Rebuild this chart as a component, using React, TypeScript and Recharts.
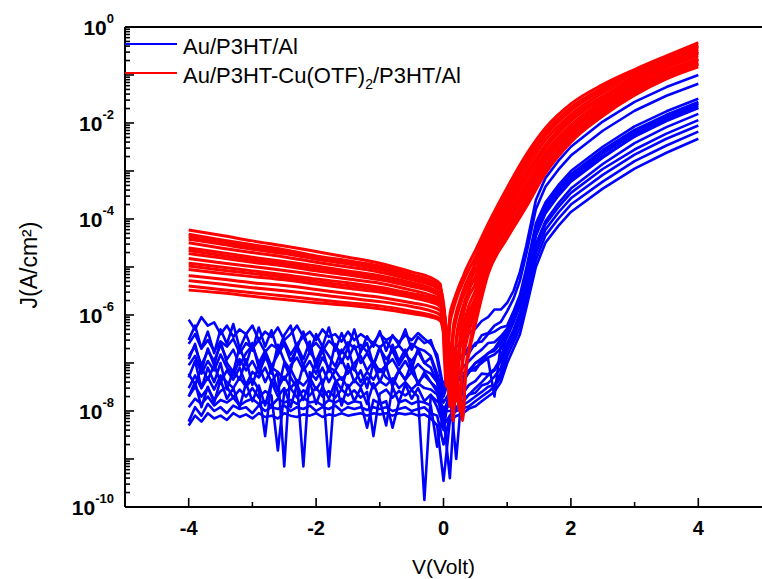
import React from 'react';
import { LineChart, Line, XAxis, YAxis, ReferenceLine, Legend } from 'recharts';

const FONT = '"Liberation Sans", Arial, Helvetica, sans-serif';

// ---------- red curves: Au/P3HT-Cu(OTF)2/P3HT/Al ----------
const redV = [-4, -3.5, -3, -2.5, -2, -1.5, -1, -0.5, -0.2, -0.05, 0.05, 0.1, 0.15, 0.2, 0.25, 0.3, 0.35, 0.4, 0.5, 0.7, 1, 1.3, 1.6, 2, 2.5, 3, 3.5, 4];

const red0 = [5.9e-5, 4.6e-5, 3.5e-5, 2.75e-5, 2.1e-5, 1.6e-5, 1.2e-5, 7.9e-6, 6.0e-6, 4.4e-6, 6.3e-8, 1.0e-6, 1.8e-6, 2.8e-6, 4.2e-6, 6.0e-6, 8.7e-6, 1.2e-5, 2.2e-5, 7.9e-5, 4.5e-4, 2.2e-3, 7.9e-3, 2.5e-2, 6.3e-2, 0.13, 0.25, 0.47];
const red1 = [4.8e-5, 3.7e-5, 2.9e-5, 2.3e-5, 1.7e-5, 1.35e-5, 1.05e-5, 6.9e-6, 5.2e-6, 3.9e-6, 3.2e-8, 6.3e-7, 1.26e-6, 2.1e-6, 3.2e-6, 4.6e-6, 6.5e-6, 8.9e-6, 1.6e-5, 6.3e-5, 3.5e-4, 1.8e-3, 6.5e-3, 2.1e-2, 5.5e-2, 0.12, 0.23, 0.42];
const red2 = [3.8e-5, 3.0e-5, 2.35e-5, 1.9e-5, 1.45e-5, 1.15e-5, 8.9e-6, 6.0e-6, 4.6e-6, 3.5e-6, 3.2e-7, 1.26e-8, 5.0e-7, 1.12e-6, 1.9e-6, 3.0e-6, 4.5e-6, 6.3e-6, 1.17e-5, 5.1e-5, 2.9e-4, 1.4e-3, 5.4e-3, 1.8e-2, 4.8e-2, 0.105, 0.2, 0.38];
const red3 = [3.2e-5, 2.5e-5, 2.0e-5, 1.62e-5, 1.26e-5, 1.0e-5, 7.8e-6, 5.4e-6, 4.2e-6, 3.2e-6, 2.5e-7, 4.0e-8, 3.5e-7, 8.3e-7, 1.45e-6, 2.3e-6, 3.4e-6, 4.8e-6, 8.5e-6, 4.1e-5, 2.3e-4, 1.12e-3, 4.4e-3, 1.5e-2, 4.2e-2, 9.3e-2, 0.19, 0.34];
const red4 = [2.5e-5, 2.0e-5, 1.6e-5, 1.3e-5, 1.05e-5, 8.3e-6, 6.6e-6, 4.7e-6, 3.6e-6, 2.8e-6, 5.0e-7, 2.0e-7, 6.3e-9, 3.2e-7, 7.9e-7, 1.4e-6, 2.3e-6, 3.4e-6, 6.2e-6, 3.3e-5, 1.86e-4, 8.9e-4, 3.5e-3, 1.3e-2, 3.6e-2, 8.3e-2, 0.17, 0.31];
const red5 = [1.9e-5, 1.55e-5, 1.26e-5, 1.05e-5, 8.3e-6, 6.8e-6, 5.4e-6, 3.9e-6, 3.1e-6, 2.4e-6, 4.0e-7, 1.4e-7, 2.5e-8, 2.5e-7, 6.0e-7, 1.07e-6, 1.7e-6, 2.5e-6, 4.4e-6, 2.6e-5, 1.5e-4, 7.1e-4, 2.95e-3, 1.1e-2, 3.2e-2, 7.4e-2, 0.15, 0.28];
const red6 = [1.5e-5, 1.23e-5, 1.02e-5, 8.5e-6, 6.9e-6, 5.6e-6, 4.6e-6, 3.3e-6, 2.6e-6, 2.1e-6, 4.0e-7, 2.0e-7, 1.0e-7, 1.6e-8, 2.0e-7, 5.0e-7, 9.5e-7, 1.6e-6, 3.2e-6, 2.1e-5, 1.2e-4, 5.6e-4, 2.4e-3, 9.1e-3, 2.8e-2, 6.8e-2, 0.14, 0.25];
const red7 = [1.2e-5, 1.0e-5, 8.3e-6, 6.9e-6, 5.6e-6, 4.7e-6, 3.8e-6, 2.8e-6, 2.3e-6, 1.8e-6, 3.2e-7, 1.6e-7, 7.9e-8, 3.2e-8, 1.6e-7, 3.8e-7, 7.1e-7, 1.12e-6, 2.3e-6, 1.7e-5, 9.5e-5, 4.5e-4, 2.0e-3, 7.8e-3, 2.45e-2, 6.0e-2, 0.123, 0.22];
const red8 = [8.9e-6, 7.4e-6, 6.3e-6, 5.4e-6, 4.4e-6, 3.6e-6, 3.0e-6, 2.3e-6, 1.86e-6, 1.5e-6, 3.2e-7, 1.8e-7, 1.0e-7, 5.0e-8, 1.26e-8, 1.26e-7, 3.2e-7, 6.3e-7, 1.66e-6, 1.4e-5, 7.8e-5, 3.5e-4, 1.6e-3, 6.6e-3, 2.1e-2, 5.4e-2, 0.112, 0.2];
const red9 = [6.6e-6, 5.6e-6, 4.7e-6, 4.1e-6, 3.4e-6, 2.8e-6, 2.35e-6, 1.8e-6, 1.5e-6, 1.23e-6, 2.8e-7, 1.4e-7, 7.9e-8, 4.0e-8, 2.0e-8, 1.0e-7, 2.4e-7, 4.5e-7, 1.2e-6, 1.1e-5, 6.2e-5, 2.8e-4, 1.3e-3, 5.6e-3, 1.86e-2, 4.8e-2, 0.102, 0.18];
const red10 = [4.0e-6, 3.4e-6, 2.9e-6, 2.5e-6, 2.1e-6, 1.8e-6, 1.55e-6, 1.2e-6, 1.0e-6, 8.3e-7, 2.5e-7, 1.26e-7, 7.9e-8, 5.0e-8, 2.5e-8, 6.3e-9, 7.9e-8, 2.0e-7, 8.7e-7, 8.9e-6, 5.0e-5, 2.2e-4, 1.1e-3, 4.7e-3, 1.6e-2, 4.3e-2, 9.1e-2, 0.166];
const red11 = [3.3e-6, 2.9e-6, 2.45e-6, 2.1e-6, 1.8e-6, 1.6e-6, 1.35e-6, 1.07e-6, 9.1e-7, 7.6e-7, 2.0e-7, 1.12e-7, 6.3e-8, 4.0e-8, 2.0e-8, 7.9e-9, 6.3e-8, 1.6e-7, 6.3e-7, 7.1e-6, 4.0e-5, 1.8e-4, 8.9e-4, 4.0e-3, 1.4e-2, 3.8e-2, 8.3e-2, 0.148];
const red12 = [4.3e-5, 3.3e-5, 2.6e-5, 2.1e-5, 1.6e-5, 1.25e-5, 9.7e-6, 6.4e-6, 4.9e-6, 3.7e-6, 4.5e-7, 2.2e-7, 1.1e-7, 2.0e-8, 2.5e-7, 8e-7, 1.8e-6, 3.2e-6, 1.4e-5, 5.7e-5, 3.2e-4, 1.6e-3, 5.9e-3, 1.95e-2, 5.1e-2, 0.112, 0.215, 0.4];
const red13 = [2.2e-5, 1.75e-5, 1.42e-5, 1.17e-5, 9.3e-6, 7.5e-6, 6e-6, 4.3e-6, 3.3e-6, 2.6e-6, 3e-7, 1.5e-8, 4e-7, 9e-7, 1.6e-6, 2.4e-6, 3.3e-6, 4.5e-6, 5.2e-6, 2.9e-5, 1.68e-4, 8e-4, 3.2e-3, 1.2e-2, 3.4e-2, 7.8e-2, 0.16, 0.295];
const red14 = [1.05e-5, 8.7e-6, 7.3e-6, 6.1e-6, 5e-6, 4.1e-6, 3.4e-6, 2.55e-6, 2.05e-6, 1.65e-6, 3.5e-7, 2e-7, 1.1e-7, 5.5e-8, 1.0e-8, 1.5e-7, 4e-7, 8e-7, 2e-6, 1.55e-5, 8.6e-5, 4e-4, 1.8e-3, 7.2e-3, 2.3e-2, 5.7e-2, 0.118, 0.21];
const red15 = [5.2e-6, 4.4e-6, 3.7e-6, 3.2e-6, 2.7e-6, 2.25e-6, 1.9e-6, 1.5e-6, 1.22e-6, 1.0e-6, 3e-7, 1.2e-7, 1.0e-8, 8e-8, 2e-7, 3.5e-7, 6e-7, 1.0e-6, 1.6e-6, 1.0e-5, 5.6e-5, 2.5e-4, 1.2e-3, 5.1e-3, 1.73e-2, 4.5e-2, 9.6e-2, 0.173];

// ---------- blue curves: Au/P3HT/Al ----------
const blueV = [
  -4, -3.9, -3.8, -3.7, -3.6, -3.5, -3.4, -3.3, -3.2, -3.1,
  -3, -2.9, -2.8, -2.7, -2.6, -2.5, -2.4, -2.3, -2.2, -2.1,
  -2, -1.9, -1.8, -1.7, -1.6, -1.5, -1.4, -1.3, -1.2, -1.1,
  -1, -0.9, -0.8, -0.7, -0.6, -0.5, -0.4, -0.3, -0.2, -0.1,
  0, 0.1, 0.2, 0.3, 0.4, 0.5, 0.6, 0.7, 0.8, 0.9,
  1, 1.1, 1.2, 1.3, 1.45, 1.6, 1.8, 2, 2.5, 3, 3.5, 4,
];

const blue0 = [
  8e-7, 5e-7, 9e-7, 6e-7, 7e-7, 4e-7, 6e-7, 3.5e-7, 5e-7, 4e-7,
  6e-7, 3e-7, 4.5e-7, 3.5e-7, 5.5e-7, 3e-7, 4e-7, 6e-7, 3.5e-7, 4.5e-7,
  3e-7, 5e-7, 3.5e-7, 4e-7, 2.8e-7, 4.5e-7, 3e-7, 4e-7, 3.2e-7, 2.6e-7,
  4e-7, 3e-7, 3.6e-7, 2.7e-7, 3.8e-7, 3e-7, 4.2e-7, 3.2e-7, 2.5e-7, 1.5e-7,
  3e-8, 1.26e-7, 2.2e-7, 2.6e-7, 4.2e-7, 5.2e-7, 7.5e-7, 9e-7, 1.3e-6, 1.3e-6,
  1.8e-6, 3.2e-6, 7.9e-6, 2.8e-5, 2.5e-4, 7.1e-4, 1.6e-3, 3.2e-3, 1.07e-2, 2.75e-2, 5.6e-2, 0.1,
];
const blue1 = [
  2.5e-7, 4e-7, 2e-7, 3e-7, 1.8e-7, 2.8e-7, 2.2e-7, 3.2e-7, 1.6e-7, 2.6e-7,
  2e-7, 3e-7, 1.7e-7, 2.4e-7, 2e-7, 2.8e-7, 1.5e-7, 2.5e-7, 3.5e-7, 2e-7,
  2.6e-7, 1.8e-7, 2.9e-7, 2.2e-7, 1.6e-7, 2.7e-7, 2e-7, 2.4e-7, 1.7e-7, 2.6e-7,
  2.1e-7, 2.8e-7, 1.9e-7, 2.3e-7, 1.6e-7, 2.5e-7, 2e-7, 1.8e-7, 1.4e-7, 6e-8,
  2e-8, 5e-8, 1.1e-7, 1.3e-7, 2.2e-7, 2.3e-7, 3.8e-7, 4.2e-7, 6e-7, 7.2e-7,
  1.2e-6, 2.2e-6, 5.2e-6, 1.86e-5, 1.6e-4, 4.7e-4, 1.05e-3, 2.1e-3, 6.9e-3, 1.8e-2, 3.7e-2, 6.6e-2,
];
const blue2 = [
  1.4e-7, 2.2e-7, 9e-8, 1.8e-7, 1.1e-7, 2.4e-7, 1.2e-7, 1.9e-7, 9e-8, 1.6e-7,
  2.3e-7, 1e-7, 1.8e-7, 8.5e-8, 1.5e-7, 2.5e-7, 1.1e-7, 2e-7, 9e-8, 1.7e-7,
  1.1e-7, 2.2e-7, 1.4e-7, 8.5e-8, 1.9e-7, 1.2e-7, 2.3e-7, 1e-7, 1.6e-7, 9e-8,
  2e-7, 1.2e-7, 1.8e-7, 9e-8, 1.5e-7, 1.1e-7, 1.7e-7, 1e-7, 8e-8, 4e-8,
  8e-9, 4e-10, 5e-8, 8e-8, 1.1e-7, 1.5e-7, 1.9e-7, 2.6e-7, 2.7e-7, 3.6e-7,
  5.2e-7, 1e-6, 2.2e-6, 7.9e-6, 6.5e-5, 1.9e-4, 4.3e-4, 8.5e-4, 2.75e-3, 7.2e-3, 1.48e-2, 2.75e-2,
];
const blue3 = [
  9e-8, 1.4e-7, 6e-8, 1.1e-7, 7e-8, 1.5e-7, 8e-8, 5.5e-8, 1.2e-7, 7e-8,
  1.1e-7, 6e-8, 1.3e-7, 8e-8, 6.5e-8, 7e-10, 9e-8, 1.3e-7, 7e-8, 1.1e-7,
  6e-8, 1.3e-7, 8e-8, 7e-8, 1.2e-7, 6e-8, 1e-7, 1.4e-7, 7e-8, 1.1e-7,
  6.5e-8, 9e-8, 1.2e-7, 7e-8, 1.1e-7, 6.5e-8, 9.5e-8, 7e-8, 6e-8, 4e-8,
  1.5e-8, 2.5e-8, 1e-9, 4e-8, 6.3e-8, 1e-7, 1.26e-7, 1.6e-7, 2e-7, 3.2e-7,
  4.9e-7, 9.1e-7, 2e-6, 7.2e-6, 5.9e-5, 1.74e-4, 3.9e-4, 7.8e-4, 2.5e-3, 6.5e-3, 1.35e-2, 2.5e-2,
];
const blue4 = [
  6e-8, 3.5e-8, 8e-8, 4.5e-8, 9e-8, 4e-8, 7e-8, 4.5e-8, 8e-8, 3.5e-8,
  6.5e-8, 5e-8, 8e-8, 4e-8, 6.5e-8, 4.5e-8, 7.5e-8, 4e-8, 7e-10, 6.5e-8,
  4.5e-8, 8e-8, 4e-8, 7e-8, 4.5e-8, 6.5e-8, 8e-8, 4e-8, 6.5e-8, 4.5e-8,
  7.5e-8, 5e-8, 4e-8, 7e-8, 4.5e-8, 6.5e-8, 4e-8, 5.5e-8, 4e-8, 2.5e-8,
  5e-9, 3.2e-8, 4.5e-8, 4.5e-8, 7e-8, 7e-8, 1.1e-7, 1.2e-7, 2e-8, 2.5e-7,
  4.5e-7, 8.3e-7, 1.9e-6, 6.8e-6, 5.4e-5, 1.6e-4, 3.5e-4, 7.1e-4, 2.3e-3, 5.9e-3, 1.23e-2, 2.3e-2,
];
const blue5 = [
  3e-8, 5.5e-8, 3e-8, 5e-8, 2.8e-8, 5.5e-8, 4e-8, 3e-8, 5e-8, 3.2e-8,
  4.6e-8, 2.8e-8, 3e-9, 4.2e-8, 3e-8, 5.2e-8, 3e-8, 4.4e-8, 3.4e-8, 5e-8,
  2.8e-8, 4.5e-8, 7e-10, 4e-8, 5e-8, 3e-8, 4.4e-8, 3.2e-8, 5e-8, 3e-8,
  4.2e-8, 3.4e-8, 4.8e-8, 3e-8, 4e-8, 2.8e-8, 3.8e-8, 3e-8, 2.8e-8, 2.2e-8,
  1e-8, 2e-8, 2.8e-8, 2.3e-8, 3.5e-8, 4.2e-8, 6e-8, 5.8e-8, 7.5e-8, 1.26e-7,
  4e-7, 7.6e-7, 1.66e-6, 5.9e-6, 4.7e-5, 1.4e-4, 3.2e-4, 6.3e-4, 2e-3, 5.2e-3, 1.1e-2, 2.05e-2,
];
const blue6 = [
  2e-8, 3.2e-8, 2e-8, 3e-8, 1.7e-8, 2.6e-8, 3.2e-8, 1.9e-8, 2.8e-8, 2e-8,
  3e-8, 1.9e-8, 2.6e-8, 2.1e-8, 1.5e-9, 2.5e-8, 3e-8, 1.9e-8, 2.7e-8, 2.1e-8,
  3.1e-8, 2e-8, 2.6e-8, 1.9e-8, 2.8e-8, 2.1e-8, 2.7e-8, 1.9e-8, 2.5e-8, 3e-9,
  2.3e-8, 2.8e-8, 1.9e-8, 2.6e-8, 2.1e-8, 2.7e-8, 2e-8, 1.4e-10, 2.1e-8, 1.6e-8,
  1.2e-8, 1.26e-8, 1.8e-8, 1.5e-8, 2.2e-8, 2.4e-8, 3.4e-8, 3.8e-8, 5.2e-8, 7.9e-8,
  2.3e-7, 4.5e-7, 9.5e-7, 3.4e-6, 2.6e-5, 7.8e-5, 1.74e-4, 3.5e-4, 1.1e-3, 2.8e-3, 6e-3, 1.15e-2,
];
const blue7 = [
  1.2e-8, 1.8e-8, 1.4e-8, 2e-8, 1.3e-8, 1.7e-8, 1.5e-8, 1.9e-8, 1.3e-8, 1.6e-8,
  1.8e-8, 1.4e-8, 1.6e-8, 1.3e-8, 1.8e-8, 1.5e-8, 1.7e-8, 1.4e-8, 1.9e-8, 1.5e-8,
  1.6e-8, 1.3e-8, 1.7e-8, 1.5e-8, 1.8e-8, 1.4e-8, 1.6e-8, 1.5e-8, 4.5e-9, 1.7e-8,
  1.4e-8, 1.6e-8, 4.5e-9, 1.5e-8, 1.7e-8, 1.4e-8, 1.6e-8, 1.5e-8, 1.3e-8, 1.8e-9,
  1e-8, 1e-8, 1.12e-8, 1.3e-8, 1.6e-8, 2e-8, 2.5e-8, 3.2e-8, 3.5e-8, 6.3e-8,
  1.8e-7, 3.5e-7, 7.4e-7, 2.6e-6, 1.95e-5, 6e-5, 1.35e-4, 2.7e-4, 8.3e-4, 2.2e-3, 4.7e-3, 8.9e-3,
];
const blue8 = [
  6e-9, 1.2e-8, 8e-9, 1.4e-8, 1e-8, 1.2e-8, 9e-9, 1.3e-8, 1.1e-8, 1.2e-8,
  9e-9, 1.3e-8, 1e-8, 1.2e-8, 1.1e-8, 1.3e-8, 1e-8, 1.2e-8, 1.1e-8, 1.3e-8,
  1e-8, 1.2e-8, 1.1e-8, 1.3e-8, 1e-8, 1.2e-8, 1.1e-8, 1.2e-8, 1.05e-8, 1.2e-8,
  1.1e-8, 1.2e-8, 1e-8, 1.1e-8, 1.2e-8, 1e-8, 1.1e-8, 1.2e-8, 9e-9, 8e-9,
  2e-9, 7.9e-9, 1e-8, 1.12e-8, 1.26e-8, 1.6e-8, 2e-8, 2.5e-8, 3.2e-8, 5e-8,
  1.38e-7, 2.7e-7, 5.5e-7, 1.95e-6, 1.4e-5, 4.5e-5, 1e-4, 2e-4, 6e-4, 1.6e-3, 3.4e-3, 6.6e-3,
];
const blue9 = [
  5e-9, 8e-9, 6e-9, 9e-9, 7e-9, 8e-9, 6.5e-9, 9e-9, 7.5e-9, 8.5e-9,
  7e-9, 9e-9, 7.5e-9, 8e-9, 7e-9, 9e-9, 8e-9, 7.5e-9, 8.5e-9, 8e-9,
  9e-9, 7.5e-9, 8.5e-9, 8e-9, 9e-9, 8e-9, 8.5e-9, 9e-9, 8e-9, 9e-9,
  8.5e-9, 9e-9, 8e-9, 9e-9, 8.5e-9, 9e-9, 8e-9, 8.5e-9, 7e-9, 5e-9,
  3.5e-10, 6.3e-9, 7.9e-9, 8.9e-9, 1.12e-8, 1.26e-8, 1.6e-8, 2e-8, 2.5e-8, 4e-8,
  1e-7, 2e-7, 4e-7, 1.4e-6, 1e-5, 3.2e-5, 7.1e-5, 1.4e-4, 4.3e-4, 1.12e-3, 2.4e-3, 4.7e-3,
];
const blue10 = [
  3e-7, 6e-7, 2e-7, 4.5e-7, 1.6e-7, 5e-7, 2.5e-7, 6.5e-7, 2e-7, 4e-7,
  1.8e-7, 5.5e-7, 2.2e-7, 4.8e-7, 1.7e-7, 3.8e-7, 6e-7, 2e-7, 4.5e-7, 1.6e-7,
  4e-7, 2.2e-7, 5.5e-7, 1.8e-7, 4.2e-7, 2e-7, 5e-7, 1.7e-7, 3.6e-7, 2.2e-7,
  4.6e-7, 1.8e-7, 3.8e-7, 2.4e-7, 5e-7, 1.9e-7, 3.5e-7, 2.6e-7, 3e-7, 1.2e-7,
  2.5e-8, 6e-8, 1e-7, 1.5e-7, 1.6e-7, 2.6e-7, 2.8e-7, 4e-7, 4.5e-7, 5.5e-7,
  6e-7, 1.2e-6, 2.6e-6, 9.5e-6, 8e-5, 2.2e-4, 5e-4, 1e-3, 3.2e-3, 8.5e-3, 1.75e-2, 3.2e-2,
];
const blue11 = [
  1.2e-7, 2.5e-7, 7e-8, 2e-7, 9e-8, 2.8e-7, 1e-7, 6.5e-8, 2.2e-7, 9e-8,
  2.6e-7, 8e-8, 1.6e-7, 6e-8, 2.4e-7, 1.1e-7, 7e-8, 2.3e-7, 1.2e-7, 2.8e-7,
  8e-8, 1.9e-7, 6.5e-8, 2.5e-7, 1e-7, 2.1e-7, 7e-8, 1.8e-7, 2.6e-7, 9e-8,
  2.2e-7, 8e-8, 2.4e-7, 1.1e-7, 1.9e-7, 7.5e-8, 2e-7, 1e-7, 1.3e-7, 5e-8,
  6e-9, 2e-8, 4e-8, 6e-8, 7e-8, 1e-7, 1.1e-7, 1.6e-7, 1.8e-7, 2.6e-7,
  4.5e-7, 9e-7, 2.1e-6, 7.5e-6, 6.2e-5, 1.8e-4, 4.1e-4, 8.2e-4, 2.6e-3, 6.8e-3, 1.4e-2, 2.6e-2,
];
const blue12 = [
  5e-8, 1.1e-7, 3e-8, 8e-8, 4e-8, 1e-7, 2.8e-8, 7e-8, 4.5e-8, 1.2e-7,
  3.5e-8, 9e-8, 4e-8, 7.5e-8, 2.6e-8, 1e-7, 5e-8, 3e-8, 9e-8, 4e-8,
  1.1e-7, 3.5e-8, 8e-8, 4.5e-8, 2.8e-8, 9.5e-8, 4e-8, 7e-8, 3e-8, 1e-7,
  4e-8, 8.5e-8, 3.2e-8, 7e-8, 4.5e-8, 1e-7, 3.5e-8, 6.5e-8, 4e-8, 3e-8,
  4e-9, 3e-8, 4e-8, 5e-8, 6.5e-8, 8e-8, 1e-7, 1.3e-7, 1.5e-7, 2e-7,
  3.5e-7, 7e-7, 1.6e-6, 5.8e-6, 4.5e-5, 1.3e-4, 3e-4, 6e-4, 1.9e-3, 5.3e-3, 1.15e-2, 2.1e-2,
];
const blue13 = [
  2e-8, 4e-8, 1.2e-8, 3.2e-8, 1.5e-8, 4.5e-8, 1.8e-8, 3e-8, 1.2e-8, 3.8e-8,
  1.6e-8, 3.4e-8, 1.3e-8, 4e-8, 2e-8, 3e-8, 1.2e-8, 3.6e-8, 1.7e-8, 4.2e-8,
  1.4e-8, 3.2e-8, 1.8e-8, 4e-8, 1.3e-8, 3.5e-8, 1.6e-8, 3e-8, 1.4e-8, 3.8e-8,
  1.7e-8, 5e-9, 3.2e-8, 1.5e-8, 3.6e-8, 1.8e-8, 3e-8, 1.6e-8, 2.2e-8, 1.2e-8,
  5e-9, 8e-9, 1.2e-8, 1.6e-8, 2.2e-8, 3e-8, 4e-8, 5.5e-8, 7e-8, 1.1e-7,
  2.6e-7, 5e-7, 1.1e-6, 3.8e-6, 3e-5, 9e-5, 2.1e-4, 4.3e-4, 1.4e-3, 3.8e-3, 8.2e-3, 1.55e-2,
];

const redCurves = [red0, red1, red12, red2, red3, red4, red13, red5, red6, red7, red14, red8, red9, red15, red10, red11];
const blueCurves = [blue0, blue10, blue1, blue11, blue2, blue3, blue12, blue4, blue5, blue13, blue6, blue7, blue8, blue9];

// ---------- axes ----------
const xTicks = [-4, -3, -2, -1, 0, 1, 2, 3, 4];
const yDecades = [1e-10, 1e-9, 1e-8, 1e-7, 1e-6, 1e-5, 1e-4, 1e-3, 1e-2, 1e-1, 1];
const yMinorMultipliers = [2, 3, 4, 5, 6, 7, 8, 9];
const yTicks = [
  ...yDecades,
  ...yDecades.slice(0, -1).flatMap((d) => yMinorMultipliers.map((m) => m * d)),
];

const BLUE = '#0000ff';
const RED = '#ff0000';

const legendItems = [
  { color: BLUE, parts: [{ text: 'Au/P3HT/Al', sub: false }] },
  {
    color: RED,
    parts: [
      { text: 'Au/P3HT-Cu(OTF)', sub: false },
      { text: '2', sub: true },
      { text: '/P3HT/Al', sub: false },
    ],
  },
];

const toSeries = (xs: number[], ys: number[]) => xs.map((v, i) => ({ v, j: ys[i] }));

function XTick(props: any) {
  const { x, y, payload } = props;
  const v = payload.value;
  const major = Math.abs(v % 2) < 1e-9;
  return (
    <g>
      <line x1={x} x2={x} y1={y} y2={y - (major ? 9 : 5)} stroke="#000" strokeWidth={1.6} />
      {major ? (
        <text x={x} y={y + 28} textAnchor="middle" fontFamily={FONT} fontWeight="bold" fontSize={20} fill="#000">
          {String(v)}
        </text>
      ) : null}
    </g>
  );
}

function YTick(props: any) {
  const { x, y, payload } = props;
  const value = payload.value;
  const lg = Math.log10(value);
  const exp = Math.round(lg);
  const major = Math.abs(lg - exp) < 1e-6;
  return (
    <g>
      <line x1={x} x2={x + (major ? 9 : 5)} y1={y} y2={y} stroke="#000" strokeWidth={1.6} />
      {major && exp % 2 === 0 ? (
        <text x={x - 11} y={y + 7.5} textAnchor="end" fontFamily={FONT} fontWeight="bold" fontSize={21} fill="#000">
          10
          <tspan dy={-12} fontSize={13}>
            {String(exp)}
          </tspan>
        </text>
      ) : null}
    </g>
  );
}

function YTitle(props: any) {
  const vb = props.viewBox || { x: 0, y: 27, width: 125, height: 480 };
  const cx = 29;
  const cy = vb.y + vb.height / 2 - 2;
  return (
    <text
      x={cx}
      y={cy}
      transform={`rotate(-90, ${cx}, ${cy})`}
      textAnchor="middle"
      dominantBaseline="central"
      fontFamily={FONT}
      fontSize={23}
      fill="#000"
    >
      J(A/cm²)
    </text>
  );
}

function LegendBox() {
  return (
    <div style={{ fontFamily: FONT, fontSize: 22, color: '#000' }}>
      {legendItems.map((item, i) => (
        <div key={i} style={{ display: 'flex', alignItems: 'center', height: 29, whiteSpace: 'nowrap' }}>
          <div style={{ width: 52, height: 2, background: item.color, marginRight: 6, transform: 'translateY(-3px)' }} />
          <span>
            {item.parts.map((p, k) =>
              p.sub ? (
                <span key={k} style={{ fontSize: 14, position: 'relative', top: 6 }}>
                  {p.text}
                </span>
              ) : (
                <span key={k}>{p.text}</span>
              )
            )}
          </span>
        </div>
      ))}
    </div>
  );
}

export default function App() {
  return (
    <div style={{ position: 'absolute', left: 0, top: 0, width: 762, height: 579, background: '#fff' }}>
      <LineChart width={762} height={579} margin={{ top: 27, right: 0, bottom: 0, left: 0 }}>
        <XAxis
          type="number"
          dataKey="v"
          domain={[-5, 5]}
          ticks={xTicks}
          interval={0}
          height={72}
          tickSize={0}
          tickMargin={0}
          tickLine={false}
          axisLine={{ stroke: '#000', strokeWidth: 2 }}
          tick={(p: any) => <XTick {...p} />}
          allowDataOverflow
          label={{
            value: 'V(Volt)',
            position: 'insideBottom',
            offset: 5,
            fill: '#000',
            fontSize: 21,
            fontFamily: FONT,
          }}
        />
        <YAxis
          type="number"
          scale="log"
          domain={[1e-10, 1]}
          ticks={yTicks}
          interval={0}
          width={125}
          tickSize={0}
          tickMargin={0}
          tickLine={false}
          axisLine={{ stroke: '#000', strokeWidth: 2 }}
          tick={(p: any) => <YTick {...p} />}
          allowDataOverflow
          label={{ value: 'J(A/cm²)', content: (p: any) => <YTitle {...p} /> }}
        />
        <ReferenceLine y={1} stroke="#000" strokeWidth={2} />
        <Legend
          layout="horizontal"
          verticalAlign="middle"
          align="center"
          wrapperStyle={{ left: 125, top: 32.5, width: 'auto' }}
          content={() => <LegendBox />}
        />
        {blueCurves.map((c, i) => (
          <Line
            key={`b${i}`}
            data={toSeries(blueV, c)}
            dataKey="j"
            type="linear"
            stroke={BLUE}
            strokeWidth={2.6}
            strokeLinejoin="round"
            dot={false}
            activeDot={false}
            legendType="none"
            isAnimationActive={false}
          />
        ))}
        {redCurves.map((c, i) => (
          <Line
            key={`r${i}`}
            data={toSeries(redV, c)}
            dataKey="j"
            type="monotone"
            stroke={RED}
            strokeWidth={3}
            strokeLinejoin="round"
            dot={false}
            activeDot={false}
            legendType="none"
            isAnimationActive={false}
          />
        ))}
      </LineChart>
    </div>
  );
}
